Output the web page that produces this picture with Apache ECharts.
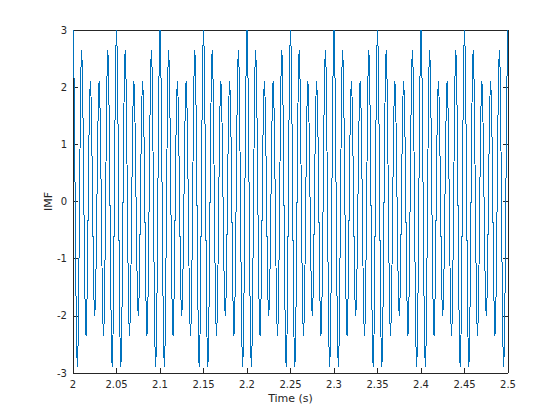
<!DOCTYPE html>
<html>
<head>
<meta charset="utf-8">
<script src="https://cdn.jsdelivr.net/npm/echarts@6/dist/echarts.min.js"></script>
<style>
html,body{margin:0;padding:0;background:#fff;}
#chart{width:560px;height:420px;}
#chart svg path{shape-rendering:crispEdges;}
</style>
</head>
<body>
<div id="chart"></div>
<script>
// Sampling of the IMF trace (1200 samples per second, starting at 2 s)
const startTime = 2.0;
const sampleRate = 1200;

// IMF sample values, 2.0 s .. 2.5 s (one line = 0.05 s)
const imfValues = [
3.00, 2.60, 1.49, 0, -1.48, -2.54, -2.90, -2.49, -1.42, 0, 1.38, 2.34, 2.65, 2.26, 1.28, 0, -1.22, -2.08, -2.35, -1.99, -1.13, 0, 1.08, 1.84, 2.10, 1.79, 1.02, 0, -1.01, -1.73, -2.00, -1.73, -1.01, 0, 1.02, 1.79, 2.10, 1.84, 1.08, 0, -1.13, -1.99, -2.35, -2.08, -1.22, 0, 1.28, 2.26, 2.65, 2.34, 1.38, 0, -1.42, -2.49, -2.90, -2.54, -1.48, 0, 1.49, 2.60,
3.00, 2.60, 1.49, 0, -1.48, -2.54, -2.90, -2.49, -1.42, 0, 1.38, 2.34, 2.65, 2.26, 1.28, 0, -1.22, -2.08, -2.35, -1.99, -1.13, 0, 1.08, 1.84, 2.10, 1.79, 1.02, 0, -1.01, -1.73, -2.00, -1.73, -1.01, 0, 1.02, 1.79, 2.10, 1.84, 1.08, 0, -1.13, -1.99, -2.35, -2.08, -1.22, 0, 1.28, 2.26, 2.65, 2.34, 1.38, 0, -1.42, -2.49, -2.90, -2.54, -1.48, 0, 1.49, 2.60,
3.00, 2.60, 1.49, 0, -1.48, -2.54, -2.90, -2.49, -1.42, 0, 1.38, 2.34, 2.65, 2.26, 1.28, 0, -1.22, -2.08, -2.35, -1.99, -1.13, 0, 1.08, 1.84, 2.10, 1.79, 1.02, 0, -1.01, -1.73, -2.00, -1.73, -1.01, 0, 1.02, 1.79, 2.10, 1.84, 1.08, 0, -1.13, -1.99, -2.35, -2.08, -1.22, 0, 1.28, 2.26, 2.65, 2.34, 1.38, 0, -1.42, -2.49, -2.90, -2.54, -1.48, 0, 1.49, 2.60,
3.00, 2.60, 1.49, 0, -1.48, -2.54, -2.90, -2.49, -1.42, 0, 1.38, 2.34, 2.65, 2.26, 1.28, 0, -1.22, -2.08, -2.35, -1.99, -1.13, 0, 1.08, 1.84, 2.10, 1.79, 1.02, 0, -1.01, -1.73, -2.00, -1.73, -1.01, 0, 1.02, 1.79, 2.10, 1.84, 1.08, 0, -1.13, -1.99, -2.35, -2.08, -1.22, 0, 1.28, 2.26, 2.65, 2.34, 1.38, 0, -1.42, -2.49, -2.90, -2.54, -1.48, 0, 1.49, 2.60,
3.00, 2.60, 1.49, 0, -1.48, -2.54, -2.90, -2.49, -1.42, 0, 1.38, 2.34, 2.65, 2.26, 1.28, 0, -1.22, -2.08, -2.35, -1.99, -1.13, 0, 1.08, 1.84, 2.10, 1.79, 1.02, 0, -1.01, -1.73, -2.00, -1.73, -1.01, 0, 1.02, 1.79, 2.10, 1.84, 1.08, 0, -1.13, -1.99, -2.35, -2.08, -1.22, 0, 1.28, 2.26, 2.65, 2.34, 1.38, 0, -1.42, -2.49, -2.90, -2.54, -1.48, 0, 1.49, 2.60,
3.00, 2.60, 1.49, 0, -1.48, -2.54, -2.90, -2.49, -1.42, 0, 1.38, 2.34, 2.65, 2.26, 1.28, 0, -1.22, -2.08, -2.35, -1.99, -1.13, 0, 1.08, 1.84, 2.10, 1.79, 1.02, 0, -1.01, -1.73, -2.00, -1.73, -1.01, 0, 1.02, 1.79, 2.10, 1.84, 1.08, 0, -1.13, -1.99, -2.35, -2.08, -1.22, 0, 1.28, 2.26, 2.65, 2.34, 1.38, 0, -1.42, -2.49, -2.90, -2.54, -1.48, 0, 1.49, 2.60,
3.00, 2.60, 1.49, 0, -1.48, -2.54, -2.90, -2.49, -1.42, 0, 1.38, 2.34, 2.65, 2.26, 1.28, 0, -1.22, -2.08, -2.35, -1.99, -1.13, 0, 1.08, 1.84, 2.10, 1.79, 1.02, 0, -1.01, -1.73, -2.00, -1.73, -1.01, 0, 1.02, 1.79, 2.10, 1.84, 1.08, 0, -1.13, -1.99, -2.35, -2.08, -1.22, 0, 1.28, 2.26, 2.65, 2.34, 1.38, 0, -1.42, -2.49, -2.90, -2.54, -1.48, 0, 1.49, 2.60,
3.00, 2.60, 1.49, 0, -1.48, -2.54, -2.90, -2.49, -1.42, 0, 1.38, 2.34, 2.65, 2.26, 1.28, 0, -1.22, -2.08, -2.35, -1.99, -1.13, 0, 1.08, 1.84, 2.10, 1.79, 1.02, 0, -1.01, -1.73, -2.00, -1.73, -1.01, 0, 1.02, 1.79, 2.10, 1.84, 1.08, 0, -1.13, -1.99, -2.35, -2.08, -1.22, 0, 1.28, 2.26, 2.65, 2.34, 1.38, 0, -1.42, -2.49, -2.90, -2.54, -1.48, 0, 1.49, 2.60,
3.00, 2.60, 1.49, 0, -1.48, -2.54, -2.90, -2.49, -1.42, 0, 1.38, 2.34, 2.65, 2.26, 1.28, 0, -1.22, -2.08, -2.35, -1.99, -1.13, 0, 1.08, 1.84, 2.10, 1.79, 1.02, 0, -1.01, -1.73, -2.00, -1.73, -1.01, 0, 1.02, 1.79, 2.10, 1.84, 1.08, 0, -1.13, -1.99, -2.35, -2.08, -1.22, 0, 1.28, 2.26, 2.65, 2.34, 1.38, 0, -1.42, -2.49, -2.90, -2.54, -1.48, 0, 1.49, 2.60,
3.00, 2.60, 1.49, 0, -1.48, -2.54, -2.90, -2.49, -1.42, 0, 1.38, 2.34, 2.65, 2.26, 1.28, 0, -1.22, -2.08, -2.35, -1.99, -1.13, 0, 1.08, 1.84, 2.10, 1.79, 1.02, 0, -1.01, -1.73, -2.00, -1.73, -1.01, 0, 1.02, 1.79, 2.10, 1.84, 1.08, 0, -1.13, -1.99, -2.35, -2.08, -1.22, 0, 1.28, 2.26, 2.65, 2.34, 1.38, 0, -1.42, -2.49, -2.90, -2.54, -1.48, 0, 1.49, 2.60,
3.00
];

// Axis ticks
const xTicks = [2, 2.05, 2.1, 2.15, 2.2, 2.25, 2.3, 2.35, 2.4, 2.45, 2.5];
const yTicks = [-3, -2, -1, 0, 1, 2, 3];

const xLabel = 'Time (s)';
const yLabel = 'IMF';

const points = imfValues.map((v, i) => [startTime + i / sampleRate, v]);

const axisColor = '#262626';
const font = 'DejaVu Sans';

function baseAxis(extra) {
  return Object.assign({
    type: 'value',
    axisLine: { show: true, onZero: false, lineStyle: { color: axisColor, width: 1 } },
    axisTick: { show: true, inside: true, length: 5, lineStyle: { color: axisColor, width: 1 } },
    splitLine: { show: false },
    axisLabel: { color: axisColor, fontSize: 10, fontFamily: font },
    nameTextStyle: { color: axisColor, fontSize: 11, fontFamily: font }
  }, extra);
}

const chart = echarts.init(document.getElementById('chart'), null, { renderer: 'svg' });
chart.setOption({
  animation: false,
  backgroundColor: '#ffffff',
  grid: { left: 73, right: 52, top: 30, bottom: 47, containLabel: false },
  xAxis: [
    baseAxis({
      position: 'bottom', min: xTicks[0], max: xTicks[xTicks.length - 1], interval: 0.05,
      name: xLabel, nameLocation: 'middle', nameGap: 20, nameMoveOverlap: false,
      axisLabel: { color: axisColor, fontSize: 10, fontFamily: font, margin: 6,
        formatter: v => String(+v.toFixed(2)) }
    }),
    baseAxis({
      position: 'top', min: xTicks[0], max: xTicks[xTicks.length - 1], interval: 0.05,
      axisLabel: { show: false }
    })
  ],
  yAxis: [
    baseAxis({
      position: 'left', min: yTicks[0], max: yTicks[yTicks.length - 1], interval: 1,
      name: yLabel, nameLocation: 'middle', nameGap: 19, nameMoveOverlap: false,
      axisLabel: { color: axisColor, fontSize: 10, fontFamily: font, margin: 6 }
    }),
    baseAxis({
      position: 'right', min: yTicks[0], max: yTicks[yTicks.length - 1], interval: 1,
      axisLabel: { show: false }
    })
  ],
  series: [{
    type: 'line',
    xAxisIndex: 0,
    yAxisIndex: 0,
    data: points,
    showSymbol: false,
    symbol: 'none',
    sampling: null,
    clip: true,
    lineStyle: { color: '#0072BD', width: 1 },
    itemStyle: { color: '#0072BD' }
  }]
});
</script>
</body>
</html>
